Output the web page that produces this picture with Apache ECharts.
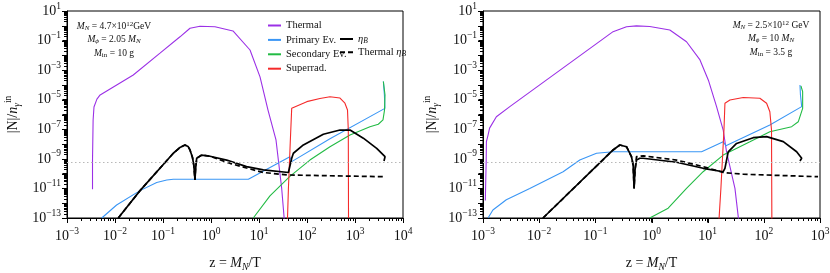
<!DOCTYPE html>
<html><head><meta charset="utf-8">
<script src="https://cdn.jsdelivr.net/npm/echarts@6/dist/echarts.min.js"></script>
<style>html,body{margin:0;padding:0;background:#fff}#c{width:830px;height:273px}</style>
</head><body><div id="c"></div>
<script>
// ---------- data: [z, |N|/n_gamma^in] ----------
const leftThermal = [[3.4e-3,8.7e-12],[3.4e-3,8.3e-10],[3.5e-3,4.3e-7],[3.65e-3,3.2e-6],[4.2e-3,1.1e-5],[4.9e-3,2.1e-5],[0.024,4.7e-4],[0.0866,1.4e-2],[0.226,0.18],[0.365,0.68],[0.59,0.92],[1.21,0.87],[2.87,0.45],[6.5,0.023],[10.5,3.5e-4],[15.4,2.0e-6],[22.6,1.9e-8],[29.7,1.0e-11],[34,5e-14]];
const leftPrimary = [[5.3e-3,1e-13],[0.0108,7.6e-13],[0.0332,7.1e-12],[0.074,2.5e-11],[0.12,3.7e-11],[0.164,4.2e-11],[0.365,4.2e-11],[6.0,4.2e-11],[44,1.4e-9],[48,6.5e-10],[301,2.3e-8],[4200,2.6e-6],[4100,2.1e-5],[3900,1.7e-4]];
const leftSecondary = [[7.6,1e-13],[16.9,3.1e-12],[44,6.5e-11],[115,8.3e-10],[301,6.6e-9],[787,4.1e-8],[2050,1.5e-7],[3060,2.2e-7],[3830,4.3e-7],[4120,2.0e-6],[4220,2.1e-5],[3900,1.7e-4]];
const leftSuperrad = [[39,5e-14],[41,1e-11],[45,1.9e-8],[48,2.6e-6],[99,7.4e-6],[186,1.2e-5],[301,1.6e-5],[487,1.3e-5],[617,5.8e-6],[698,2.0e-6],[725,8.9e-8],[733,5e-14]];
const leftEtaB = [[0.0117,1e-13],[0.0332,7.1e-12],[0.164,2.4e-9],[0.226,5.9e-9],[0.287,8.7e-9],[0.332,6.9e-9],[0.365,4.0e-9],[0.41,1.3e-9],[0.438,3.8e-10],[0.464,3.7e-11],[0.476,1.8e-10],[0.503,1.1e-9],[0.64,1.8e-9],[0.953,1.5e-9],[2.12,8.3e-10],[5.5,3.0e-10],[12.3,1.8e-10],[41,1.2e-10],[44,1.35e-10],[48,1.1e-9],[52,2.4e-9],[84,8.7e-9],[219,4.6e-8],[487,8.9e-8],[787,8.9e-8],[1490,2.5e-8],[2830,5.1e-9],[4220,1.4e-9],[4020,7.2e-10]];
const leftThermalEtaB = [[0.0117,1e-13],[0.0332,7.1e-12],[0.164,2.4e-9],[0.226,5.9e-9],[0.287,8.7e-9],[0.332,6.9e-9],[0.365,4.0e-9],[0.41,1.3e-9],[0.438,3.8e-10],[0.464,3.7e-11],[0.476,1.8e-10],[0.503,1.1e-9],[0.64,1.8e-9],[0.953,1.5e-9],[2.49,5.0e-10],[5.5,2.4e-10],[12.3,1.2e-10],[41,8.1e-11],[3900,6.2e-11]];

const rightThermal = [[1.1e-3,1.5e-12],[1.14e-3,8.3e-10],[1.15e-3,1.45e-8],[1.23e-3,4.1e-8],[1.31e-3,1.2e-7],[1.73e-3,7.1e-7],[3.0e-3,3.4e-6],[0.207,0.40],[0.359,0.87],[0.54,0.98],[0.93,0.9],[2.12,0.52],[4.2,0.083],[7.3,4.9e-3],[10.3,2.1e-4],[14.4,3.4e-6],[18.9,8.9e-8],[21.7,3.0e-9],[30.6,1.0e-11],[36,5e-14]];
const rightPrimary = [[1.23e-3,1e-13],[1.5e-3,3.5e-13],[2.6e-3,1.7e-12],[6.8e-3,1.0e-11],[0.0267,1.35e-10],[0.0528,8.3e-10],[0.105,2.4e-9],[0.207,3.0e-9],[7.8,3.0e-9],[18.9,1.45e-8],[21.1,7.8e-9],[128,1.95e-7],[472,3.4e-6],[449,2.1e-5],[440,1e-4]];
const rightSecondary = [[0.93,1e-13],[1.98,4.6e-13],[4.2,1.0e-11],[8.3,1.35e-10],[18.9,1.8e-9],[56.5,1.45e-8],[128,6.9e-8],[313,1.5e-7],[410,3.2e-7],[491,2.6e-6],[491,3.5e-5],[458,8.5e-5]];
const rightSuperrad = [[15.8,5e-14],[17.2,1e-11],[19.5,8.9e-8],[20.3,5.8e-6],[24.9,9.6e-6],[43,1.4e-5],[85,1.26e-5],[112,5.8e-6],[128,1.55e-6],[137,8.9e-8],[139,5e-14]];
const rightEtaB = [[0.0117,1e-13],[0.207,4.0e-9],[0.273,8.7e-9],[0.359,6.6e-9],[0.44,1.4e-9],[0.471,3.8e-10],[0.49,1.0e-11],[0.509,1.8e-10],[0.541,8.3e-10],[0.62,1.1e-9],[0.71,1.1e-9],[2.79,5.9e-10],[8.3,2.3e-10],[18.9,1.35e-10],[20.3,2.3e-10],[23.2,3.0e-9],[32.7,1.1e-8],[64.7,2.7e-8],[112,3.2e-8],[222,1.45e-8],[384,3.0e-9],[472,1.1e-9],[440,7.2e-10]];
const rightThermalEtaB = [[0.0117,1e-13],[0.207,4.0e-9],[0.273,8.7e-9],[0.359,6.6e-9],[0.44,1.4e-9],[0.471,3.8e-10],[0.49,1.0e-11],[0.509,1.8e-10],[0.541,1.4e-9],[0.71,1.6e-9],[2.79,8.3e-10],[8.3,3.0e-10],[18.9,1.2e-10],[43,9.1e-11],[923,6.2e-11]];

const observedEta = 6.1e-10;
const xTickExpLeft = [-3,-2,-1,0,1,2,3,4];
const xTickExpRight = [-3,-2,-1,0,1,2,3];
const yTickExp = [1,0,-1,-2,-3,-4,-5,-6,-7,-8,-9,-10,-11,-12,-13];
const yLabelExp = [1,-1,-3,-5,-7,-9,-11,-13];
const legendNames = ['Thermal','Primary Ev.','Secondary Ev.','Superrad.'];
const legendNames2 = ['eta_B','Thermal eta_B'];
const paramsLeft = ['{i|M}{sub|N} = 4.7×10{sup|12}GeV','{i|M}{sub|ϕ} = 2.05 {i|M}{sub|N}','{i|M}{rs|in} = 10 g'];
const paramsRight = ['{i|M}{sub|N} = 2.5×10{sup|12} GeV','{i|M}{sub|ϕ} = 10 {i|M}{sub|N}','{i|M}{rs|in} = 3.5 g'];

// ---------- helpers (axes carry log10 of the values) ----------
const FONT = 'Liberation Serif';
const L = Math.log10;
const toLog = arr => arr.map(p => [L(p[0]), L(p[1])]);
function minors(exps){const lo=Math.min(...exps),hi=Math.max(...exps);const r=[];for(let e=lo;e<hi;e++)for(let k=2;k<=9;k++)r.push(e+L(k));return r;}
function supLabel(v){const e=Math.round(v);return '{b|10}{s|'+(e<0?'\u2212'+(-e):e)+'}';}
const tickRich = {
  b:{fontFamily:FONT,fontSize:14,lineHeight:20,color:'#111'},
  s:{fontFamily:FONT,fontSize:9.5,lineHeight:10,padding:[0,0,10,0],color:'#111'}
};
const nameRich = {
  t:{fontFamily:FONT,fontSize:14,lineHeight:20,color:'#111'},
  i:{fontFamily:FONT,fontSize:14,fontStyle:'italic',lineHeight:20,color:'#111'},
  sub:{fontFamily:FONT,fontSize:9.5,fontStyle:'italic',lineHeight:10,padding:[9,0,0,0],color:'#111'},
  sup:{fontFamily:FONT,fontSize:9.5,lineHeight:10,padding:[0,0,9,0],color:'#111'}
};
const smallRich = {
  i:{fontFamily:FONT,fontSize:9.5,fontStyle:'italic',lineHeight:12,fill:'#111',color:'#111'},
  sub:{fontFamily:FONT,fontSize:7,fontStyle:'italic',lineHeight:8,padding:[4,0,0,0],fill:'#111',color:'#111'},
  rs:{fontFamily:FONT,fontSize:7,lineHeight:8,padding:[4,0,0,0],fill:'#111',color:'#111'},
  sup:{fontFamily:FONT,fontSize:7,lineHeight:8,padding:[0,0,4,0],fill:'#111',color:'#111'}
};
const legendRich = {
  i:{fontFamily:FONT,fontSize:10.5,fontStyle:'italic',lineHeight:12,color:'#111'},
  sub:{fontFamily:FONT,fontSize:7.5,fontStyle:'italic',lineHeight:8,padding:[4,0,0,0],color:'#111'}
};

const Y_MIN = -13, Y_MAX = 1;
const GRID_TOP = 11, GRID_H = 207;
const GRIDS = [{left:67,width:336,xmin:-3,xmax:4},{left:483,width:337,xmin:-3,xmax:3}];
function xAxis(grid, nameText){
  const g = GRIDS[grid];
  return {gridIndex:grid,type:'value',min:g.xmin,max:g.xmax,interval:1,position:'bottom',
     axisLine:{show:true,onZero:false,lineStyle:{color:'#000',width:1}},
     axisTick:{show:true,inside:false,length:4.6,lineStyle:{color:'#000',width:1}},
     axisLabel:{show:true,formatter:supLabel,rich:tickRich,margin:8},
     splitLine:{show:false},minorTick:{show:false},
     name:nameText,nameLocation:'middle',nameGap:35,
     nameTextStyle:{fontFamily:FONT,fontSize:14,color:'#111',rich:nameRich}};
}
function yAxis(grid, gap){
  return {gridIndex:grid,type:'value',min:Y_MIN,max:Y_MAX,interval:1,position:'left',
     axisLine:{show:true,onZero:false,lineStyle:{color:'#000',width:1}},
     axisTick:{show:true,inside:false,length:4.6,lineStyle:{color:'#000',width:1}},
     axisLabel:{show:true,customValues:yLabelExp,formatter:supLabel,rich:tickRich,margin:6},
     splitLine:{show:false},minorTick:{show:false},
     name:'{t||N|/}{i|n}{sub|γ}{sup|in}',nameLocation:'middle',nameGap:gap,
     nameTextStyle:{fontFamily:FONT,fontSize:14,color:'#111',rich:nameRich}};
}
// tick marks as small filled rectangles, placed with the same linear mapping the value axes use
function tickGraphics(grid, xExps){
  const g = GRIDS[grid];
  const bottom = GRID_TOP + GRID_H;
  const xp = v => g.left + (v - g.xmin) / (g.xmax - g.xmin) * g.width;
  const yp = v => bottom - (v - Y_MIN) / (Y_MAX - Y_MIN) * GRID_H;
  const els = [];
  const box = (x,y,w,h) => els.push({type:'rect',silent:true,z:50,
    shape:{x:x,y:y,width:w,height:h},style:{fill:'#000'}});
  xExps.forEach(v=>box(Math.round(xp(v)),bottom,1,5));
  minors(xExps).forEach(v=>box(Math.round(xp(v)),bottom,1,3));
  yTickExp.forEach(v=>box(g.left-5,Math.round(yp(v)),5,1));
  minors(yTickExp).forEach(v=>box(g.left-3,Math.round(yp(v)),3,1));
  return els;
}

const C = {thermal:'#9b30e6',primary:'#3a96f5',secondary:'#22bb44',superrad:'#f52a2a',black:'#000'};
function line(name, data, gi, color, width, dash, extra){
  return Object.assign({name:name,type:'line',data:toLog(data),xAxisIndex:gi,yAxisIndex:gi,
    symbol:'none',showSymbol:false,smooth:false,silent:true,animation:false,clip:true,
    lineStyle:{color:color,width:width,type:dash||'solid'},itemStyle:{color:color}}, extra||{});
}
const obsLine = {silent:true,symbol:'none',label:{show:false},animation:false,
  lineStyle:{type:[1.5,2.5],color:'#b8b8b8',width:1},data:[{yAxis:L(observedEta)}]};

const textEls = [].concat(
  paramsLeft.map((t,k)=>({type:'text',x:114,y:26+k*13.5,silent:true,
    style:{text:t,rich:smallRich,fontFamily:FONT,fontSize:9.5,fill:'#111',align:'center',verticalAlign:'middle'}})),
  paramsRight.map((t,k)=>({type:'text',x:771,y:25+k*13.5,silent:true,
    style:{text:t,rich:smallRich,fontFamily:FONT,fontSize:9.5,fill:'#111',align:'center',verticalAlign:'middle'}}))
);

const xName = '{t|z = }{i|M}{sub|N}{t|/T}';
const option = {
  backgroundColor:'#fff',
  animation:false,
  grid:GRIDS.map(g=>({left:g.left,top:GRID_TOP,width:g.width,height:GRID_H,show:true,borderColor:'#000',borderWidth:1,containLabel:false,outerBoundsMode:'none'})),
  xAxis:[xAxis(0,xName), xAxis(1,xName)],
  yAxis:[yAxis(0,44), yAxis(1,41)],
  legend:[
    {data:legendNames,orient:'vertical',left:262,top:15,itemWidth:13,itemHeight:8,itemGap:3.4,
     selectedMode:false,itemStyle:{opacity:0},
     textStyle:{fontFamily:FONT,fontSize:10.5,lineHeight:10,color:'#111'}},
    {data:legendNames2,orient:'vertical',left:334,top:28,itemWidth:13,itemHeight:8,itemGap:1.3,
     selectedMode:false,itemStyle:{opacity:0},
     formatter:n=> n==='eta_B' ? '{i|η}{sub|B}' : 'Thermal {i|η}{sub|B}',
     textStyle:{fontFamily:FONT,fontSize:10.5,lineHeight:12,color:'#111',rich:legendRich}}
  ],
  graphic:[{type:'group',silent:true,children:textEls.concat(tickGraphics(0,xTickExpLeft), tickGraphics(1,xTickExpRight))}],
  series:[
    line('Thermal',leftThermal,0,C.thermal,1.1,null,{markLine:obsLine}),
    line('Primary Ev.',leftPrimary,0,C.primary,1.1),
    line('Secondary Ev.',leftSecondary,0,C.secondary,1.1),
    line('Superrad.',leftSuperrad,0,C.superrad,1.1),
    line('Thermal eta_B',leftThermalEtaB,0,C.black,1.7,[5,3]),
    line('eta_B',leftEtaB,0,C.black,1.7),
    line('Thermal (b)',rightThermal,1,C.thermal,1.1,null,{markLine:obsLine}),
    line('Primary Ev. (b)',rightPrimary,1,C.primary,1.1),
    line('Secondary Ev. (b)',rightSecondary,1,C.secondary,1.1),
    line('Superrad. (b)',rightSuperrad,1,C.superrad,1.1),
    line('Thermal eta_B (b)',rightThermalEtaB,1,C.black,1.7,[5,3]),
    line('eta_B (b)',rightEtaB,1,C.black,1.7)
  ]
};
const chart = echarts.init(document.getElementById('c'),null,{renderer:'canvas'});
chart.setOption(option);
</script></body></html>
